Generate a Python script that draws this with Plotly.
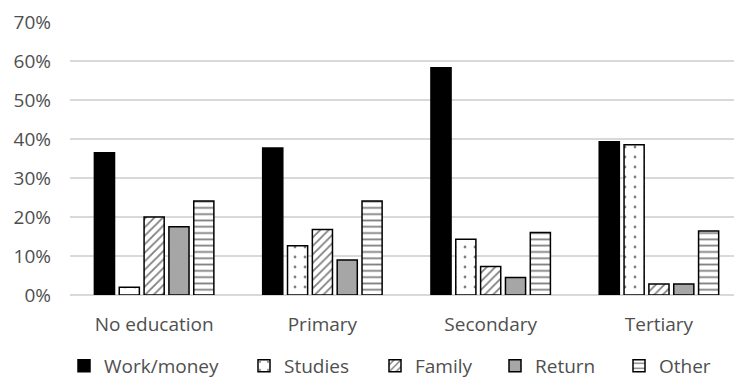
import plotly.graph_objects as go

categories = ["No education", "Primary", "Secondary", "Tertiary"]
series_names = ["Work/money", "Studies", "Family", "Return", "Other"]
work = [36.5, 37.7, 58.3, 39.3]
studies = [2.0, 12.6, 14.3, 38.5]
family = [20.0, 16.8, 7.3, 2.8]
ret = [17.5, 9.0, 4.5, 2.8]
other = [24.1, 24.1, 16.0, 16.4]
y_ticks = [0, 10, 20, 30, 40, 50, 60, 70]

values = [work, studies, family, ret, other]
styles = [
    dict(color="#000000", pattern=dict(shape="")),
    dict(color="#ffffff", pattern=dict(shape=".", fgcolor="#000000", bgcolor="#ffffff", size=10, solidity=0.06)),
    dict(color="#ffffff", pattern=dict(shape="/", fgcolor="#000000", bgcolor="#ffffff", size=6, solidity=0.3)),
    dict(color="#a6a6a6", pattern=dict(shape="")),
    dict(color="#ffffff", pattern=dict(shape="-", fgcolor="#000000", bgcolor="#ffffff", size=6.3, solidity=0.28)),
]

W, H = 734, 380
L, R, T, B = 70, 0, 22, 85
font_color = "#4f4f4f"
font_family = "Open Sans"
fsize = 19

# legend left positions in pixels (layout only)
legend_px = [64, 244, 375, 495, 619]
legend_keys = ["legend", "legend2", "legend3", "legend4", "legend5"]

x = list(range(len(categories)))
fig = go.Figure()
for name, vals, st, lk in zip(series_names, values, styles, legend_keys):
    fig.add_trace(go.Bar(
        x=x, y=[v / 100 for v in vals], name=name, legend=lk,
        marker=dict(color=st["color"], pattern=st["pattern"],
                    line=dict(color="#000000", width=1.5)),
    ))

layout_legends = {}
for lk, px in zip(legend_keys, legend_px):
    layout_legends[lk] = dict(
        orientation="h", xref="paper", x=(px - L) / (W - L - R), xanchor="left",
        yref="container", y=(H - 366) / H, yanchor="middle",
        font=dict(family=font_family, size=fsize, color=font_color),
        bgcolor="rgba(0,0,0,0)", borderwidth=0,
    )

fig.update_layout(
    width=W, height=H,
    margin=dict(l=L, r=R, t=T, b=B, autoexpand=False),
    paper_bgcolor="white", plot_bgcolor="white",
    barmode="group", bargap=0.262, bargroupgap=0.19,
    font=dict(family=font_family, size=fsize, color=font_color),
    showlegend=True,
    **layout_legends,
)
fig.update_xaxes(
    tickmode="array", tickvals=x, ticktext=categories,
    range=[-0.5, 3.446], showgrid=False, zeroline=False, showline=False,
    ticks="", ticklabelstandoff=16, tickfont=dict(size=fsize, color=font_color),
)
fig.update_yaxes(
    range=[0, 0.7], tickvals=[t / 100 for t in y_ticks],
    ticktext=[f"{t}%" for t in y_ticks],
    showgrid=True, gridcolor="#d9d9d9", gridwidth=1.5,
    zeroline=True, zerolinecolor="#d9d9d9", zerolinewidth=1.5,
    showline=False, ticks="", ticklabelstandoff=18,
    tickfont=dict(size=fsize, color=font_color),
)
fig.write_html("out.html")
